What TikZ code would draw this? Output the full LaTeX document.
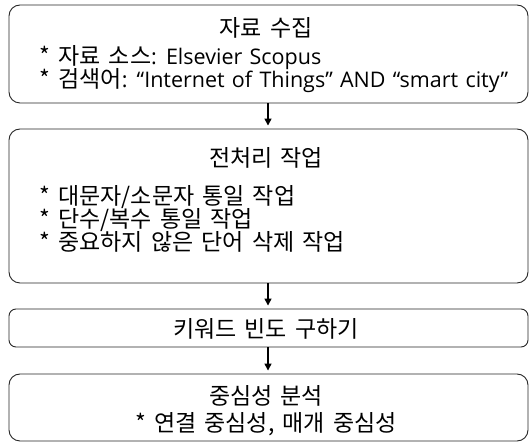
\documentclass[tikz,border=0pt]{standalone}
\usepackage{fontspec}
\setmainfont{Noto Sans CJK KR}[WordSpace=1.58]
\newfontfamily\lat{Open Sans}[WordSpace=1.3]
\newcommand\latin[1]{{\lat\fontsize{21.5}{25}\selectfont #1}}
\usetikzlibrary{arrows.meta}
\begin{document}
\begin{tikzpicture}[x=1pt,y=-1pt,
  box/.style={draw=black!85, line width=0.9pt, rounded corners=11pt, minimum width=519pt, inner sep=0pt},
  ttl/.style={anchor=base, font=\fontsize{23}{27}\selectfont},
  ln/.style={anchor=base west, font=\fontsize{23}{27}\selectfont},
  flow/.style={line width=1.4pt, -{Triangle[length=7pt,width=7pt]}, shorten >=3pt}]
\useasboundingbox (0,0) rectangle (531,443);
\node[box, minimum height=98pt] (b1) at (268.5,54) {};
\node[box, minimum height=154pt] (b2) at (268.5,206) {};
\node[box, minimum height=38pt, rounded corners=7pt] (b3) at (268.5,328) {};
\node[box, minimum height=67pt] (b4) at (268.5,407.5) {};
\node[ttl] (t1) at (266,37) {자료 수집};
\node[ln] (l11) at (36,65) {* 자료 소스\latin{: Elsevier Scopus}};
\node[ln] (l12) at (36,88) {* 검색어\latin{: “Internet of Things” AND “smart city”}};
\node[ttl] (t2) at (266,167) {전처리 작업};
\node[ln] (l21) at (36,205) {* 대문자/소문자 통일 작업};
\node[ln] (l22) at (36,228) {* 단수/복수 통일 작업};
\node[ln] (l23) at (36,251) {* 중요하지 않은 단어 삭제 작업};
\node[ttl] (t3) at (266,338) {키워드 빈도 구하기};
\node[ttl] (t4) at (266,405) {중심성 분석};
\node[ttl] (t41) at (266,432) {* 연결 중심성, 매개 중심성};
\draw[flow] (b1.south -| 268,0) -- (b2.north -| 268,0);
\draw[flow] (b2.south -| 268,0) -- (b3.north -| 268,0);
\draw[flow] (b3.south -| 268,0) -- (b4.north -| 268,0);
\end{tikzpicture}
\end{document}
